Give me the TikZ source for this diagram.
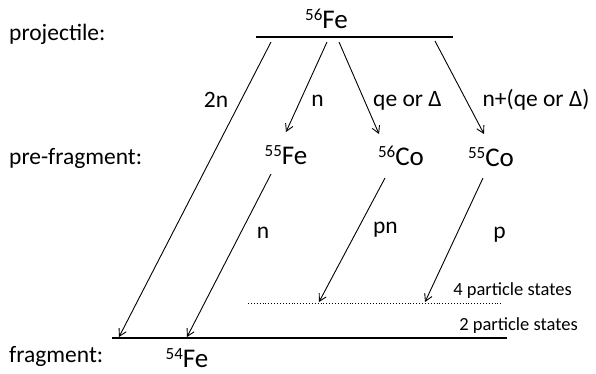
\documentclass[tikz,border=0pt]{standalone}
\usepackage{fontspec}
\setmainfont{Carlito}
\usetikzlibrary{arrows.meta}
\newcommand{\iso}[2]{\raisebox{0.62ex}{\fontsize{17}{17}\selectfont #1}#2}
\tikzset{
  lbl/.style={font=\fontsize{23.5}{23.5}\selectfont, inner sep=0pt, anchor=base},
  nuc/.style={font=\fontsize{27}{27}\selectfont, inner sep=0pt, anchor=base},
  small/.style={font=\fontsize{18.5}{18.5}\selectfont, inner sep=0pt, anchor=base},
  arr/.style={line width=0.9pt, -{Straight Barb[length=7pt,width=8pt,line width=0.9pt]}},
  lvl/.style={line width=1.1pt}
}
\begin{document}
\begin{tikzpicture}[x=1pt,y=-1pt]
\useasboundingbox (0,0) rectangle (596,373);
% row labels
\node[lbl, anchor=base west] (proj) at (9,40) {projectile:};
\node[lbl, anchor=base west] (pref) at (9,164) {pre-fragment:};
\node[lbl, anchor=base west] (frag) at (9,362) {fragment:};
% nuclides
\node[nuc] (fe56) at (326.5,28.5) {\iso{56}{Fe}};
\node[nuc] (fe55) at (286,164) {\iso{55}{Fe}};
\node[nuc] (co56) at (401,165) {\iso{56}{Co}};
\node[nuc] (co55) at (491,166) {\iso{55}{Co}};
\node[nuc] (fe54) at (187,367.5) {\iso{54}{Fe}};
% levels
\coordinate (topL) at (256,37);
\coordinate (topR) at (453,37);
\draw[lvl] (topL) -- (topR);
\coordinate (botL) at (112,338);
\coordinate (botR) at (507,338);
\draw[lvl] (botL) -- (botR);
\coordinate (dotL) at (248,303);
\coordinate (dotR) at (502,303);
\draw[line width=0.9pt, dotted] (dotL) -- (dotR);
% arrow endpoints
\coordinate (s1) at (271,42);  \coordinate (e1) at (119,337);
\coordinate (s2) at (327,42);  \coordinate (e2) at (286,132);
\coordinate (s3) at (339,42);  \coordinate (e3) at (379,134);
\coordinate (s4) at (435,41);  \coordinate (e4) at (484,134);
\coordinate (s5) at (271,174); \coordinate (e5) at (187,337);
\coordinate (s6) at (385,178); \coordinate (e6) at (319,302);
\coordinate (s7) at (483,178); \coordinate (e7) at (425,302);
\draw[arr] (s1) -- (e1);
\draw[arr] (s2) -- (e2);
\draw[arr] (s3) -- (e3);
\draw[arr] (s4) -- (e4);
\draw[arr] (s5) -- (e5);
\draw[arr] (s6) -- (e6);
\draw[arr] (s7) -- (e7);
% arrow labels
\node[lbl] (l1) at (216,107) {2n};
\node[lbl] (l2) at (317.5,106) {n};
\node[lbl] (l3) at (407.5,106) {qe or Δ};
\node[lbl] (l4) at (536,106) {n+(qe or Δ)};
\node[lbl] (l5) at (263,238) {n};
\node[lbl] (l6) at (385.5,233) {pn};
\node[lbl] (l7) at (499.5,238) {p};
\node[small] (st4) at (512.5,295) {4 particle states};
\node[small] (st2) at (518.5,330) {2 particle states};
\end{tikzpicture}
\end{document}
